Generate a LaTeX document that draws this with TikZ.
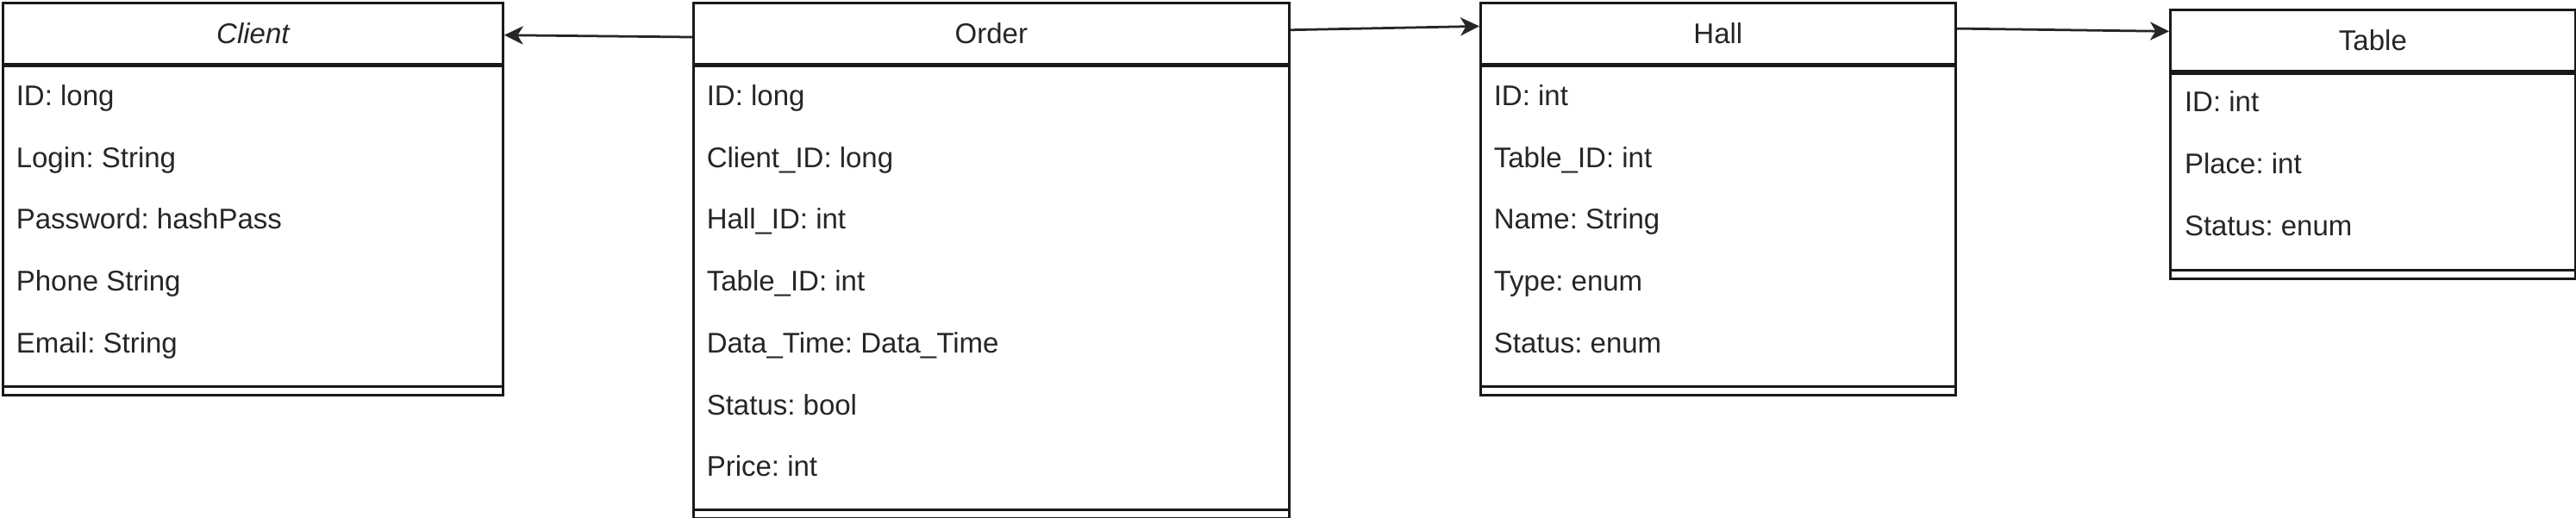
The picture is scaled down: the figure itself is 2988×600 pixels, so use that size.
\documentclass[tikz,border=0pt]{standalone}
\usepackage{fontspec}
\setmainfont{Liberation Sans}
\usetikzlibrary{arrows.meta,calc}
\begin{document}
\frenchspacing
\begin{tikzpicture}[x=0.25pt,y=-0.25pt,
  every node/.style={font=\fontsize{8.25pt}{10pt}\selectfont, text=black!85},
  boxpart/.style={draw=black!90, line width=0.69pt, rectangle, anchor=north west, inner sep=0pt, fill=white},
  attr/.style={anchor=west, inner sep=0pt, text height=6pt, text depth=1.6pt},
  conn/.style={draw=black!85, line width=0.69pt, -{Stealth[length=5.5pt,width=5.3pt,inset=1.6pt]}},
  sepline/.style={draw=black!90, line width=0.69pt}
]
\useasboundingbox (0,0) rectangle (2988,600);

% ---------- Client ----------
\node[boxpart, minimum width=145pt, minimum height=17.675pt] (clienth) at (2,2) {\itshape Client};
\node[boxpart, minimum width=145pt, minimum height=95.45pt] (clientb) at (clienth.south west) {};
\draw[sepline] ([yshift=2.85pt]clientb.south west) -- ([yshift=2.85pt]clientb.south east);
\node[attr] (c1) at ([xshift=4pt,yshift=-9.5pt]clientb.north west) {ID: long};
\node[attr] (c2) at ([yshift=-17.94pt]c1.west) {Login: String};
\node[attr] (c3) at ([yshift=-17.94pt]c2.west) {Password: hashPass};
\node[attr] (c4) at ([yshift=-17.94pt]c3.west) {Phone String};
\node[attr] (c5) at ([yshift=-17.94pt]c4.west) {Email: String};

% ---------- Order ----------
\node[boxpart, minimum width=172.75pt, minimum height=17.675pt] (orderh) at (803,2) {Order};
\node[boxpart, minimum width=172.75pt, minimum height=131.2pt] (orderb) at (orderh.south west) {};
\draw[sepline] ([yshift=2.85pt]orderb.south west) -- ([yshift=2.85pt]orderb.south east);
\node[attr] (o1) at ([xshift=4pt,yshift=-9.5pt]orderb.north west) {ID: long};
\node[attr] (o2) at ([yshift=-17.94pt]o1.west) {Client\_ID: long};
\node[attr] (o3) at ([yshift=-17.94pt]o2.west) {Hall\_ID: int};
\node[attr] (o4) at ([yshift=-17.94pt]o3.west) {Table\_ID: int};
\node[attr] (o5) at ([yshift=-17.94pt]o4.west) {Data\_Time: Data\_Time};
\node[attr] (o6) at ([yshift=-17.94pt]o5.west) {Status: bool};
\node[attr] (o7) at ([yshift=-17.94pt]o6.west) {Price: int};

% ---------- Hall ----------
\node[boxpart, minimum width=137.75pt, minimum height=17.675pt] (hallh) at (1716,2) {Hall};
\node[boxpart, minimum width=137.75pt, minimum height=95.45pt] (hallb) at (hallh.south west) {};
\draw[sepline] ([yshift=2.85pt]hallb.south west) -- ([yshift=2.85pt]hallb.south east);
\node[attr] (h1) at ([xshift=4pt,yshift=-9.5pt]hallb.north west) {ID: int};
\node[attr] (h2) at ([yshift=-17.94pt]h1.west) {Table\_ID: int};
\node[attr] (h3) at ([yshift=-17.94pt]h2.west) {Name: String};
\node[attr] (h4) at ([yshift=-17.94pt]h3.west) {Type: enum};
\node[attr] (h5) at ([yshift=-17.94pt]h4.west) {Status: enum};

% ---------- Table ----------
\node[boxpart, minimum width=117.5pt, minimum height=17.75pt] (tableh) at (2516,10) {Table};
\node[boxpart, minimum width=117.5pt, minimum height=59.6pt] (tableb) at (tableh.south west) {};
\draw[sepline] ([yshift=2.85pt]tableb.south west) -- ([yshift=2.85pt]tableb.south east);
\node[attr] (t1) at ([xshift=4.3pt,yshift=-9.3pt]tableb.north west) {ID: int};
\node[attr] (t2) at ([yshift=-17.94pt]t1.west) {Place: int};
\node[attr] (t3) at ([yshift=-17.94pt]t2.west) {Status: enum};

% ---------- connectors ----------
\draw[conn] ($(orderh.west)+(0,4.3)$) -- ($(clienth.east)+(0,2)$);
\draw[conn] ($(orderh.east)+(0,-4)$) -- ($(hallh.west)+(0,-8.3)$);
\draw[conn] ($(hallh.east)+(0,-5.6)$) -- ($(tableh.west)+(0,-10.5)$);
\end{tikzpicture}
\end{document}
